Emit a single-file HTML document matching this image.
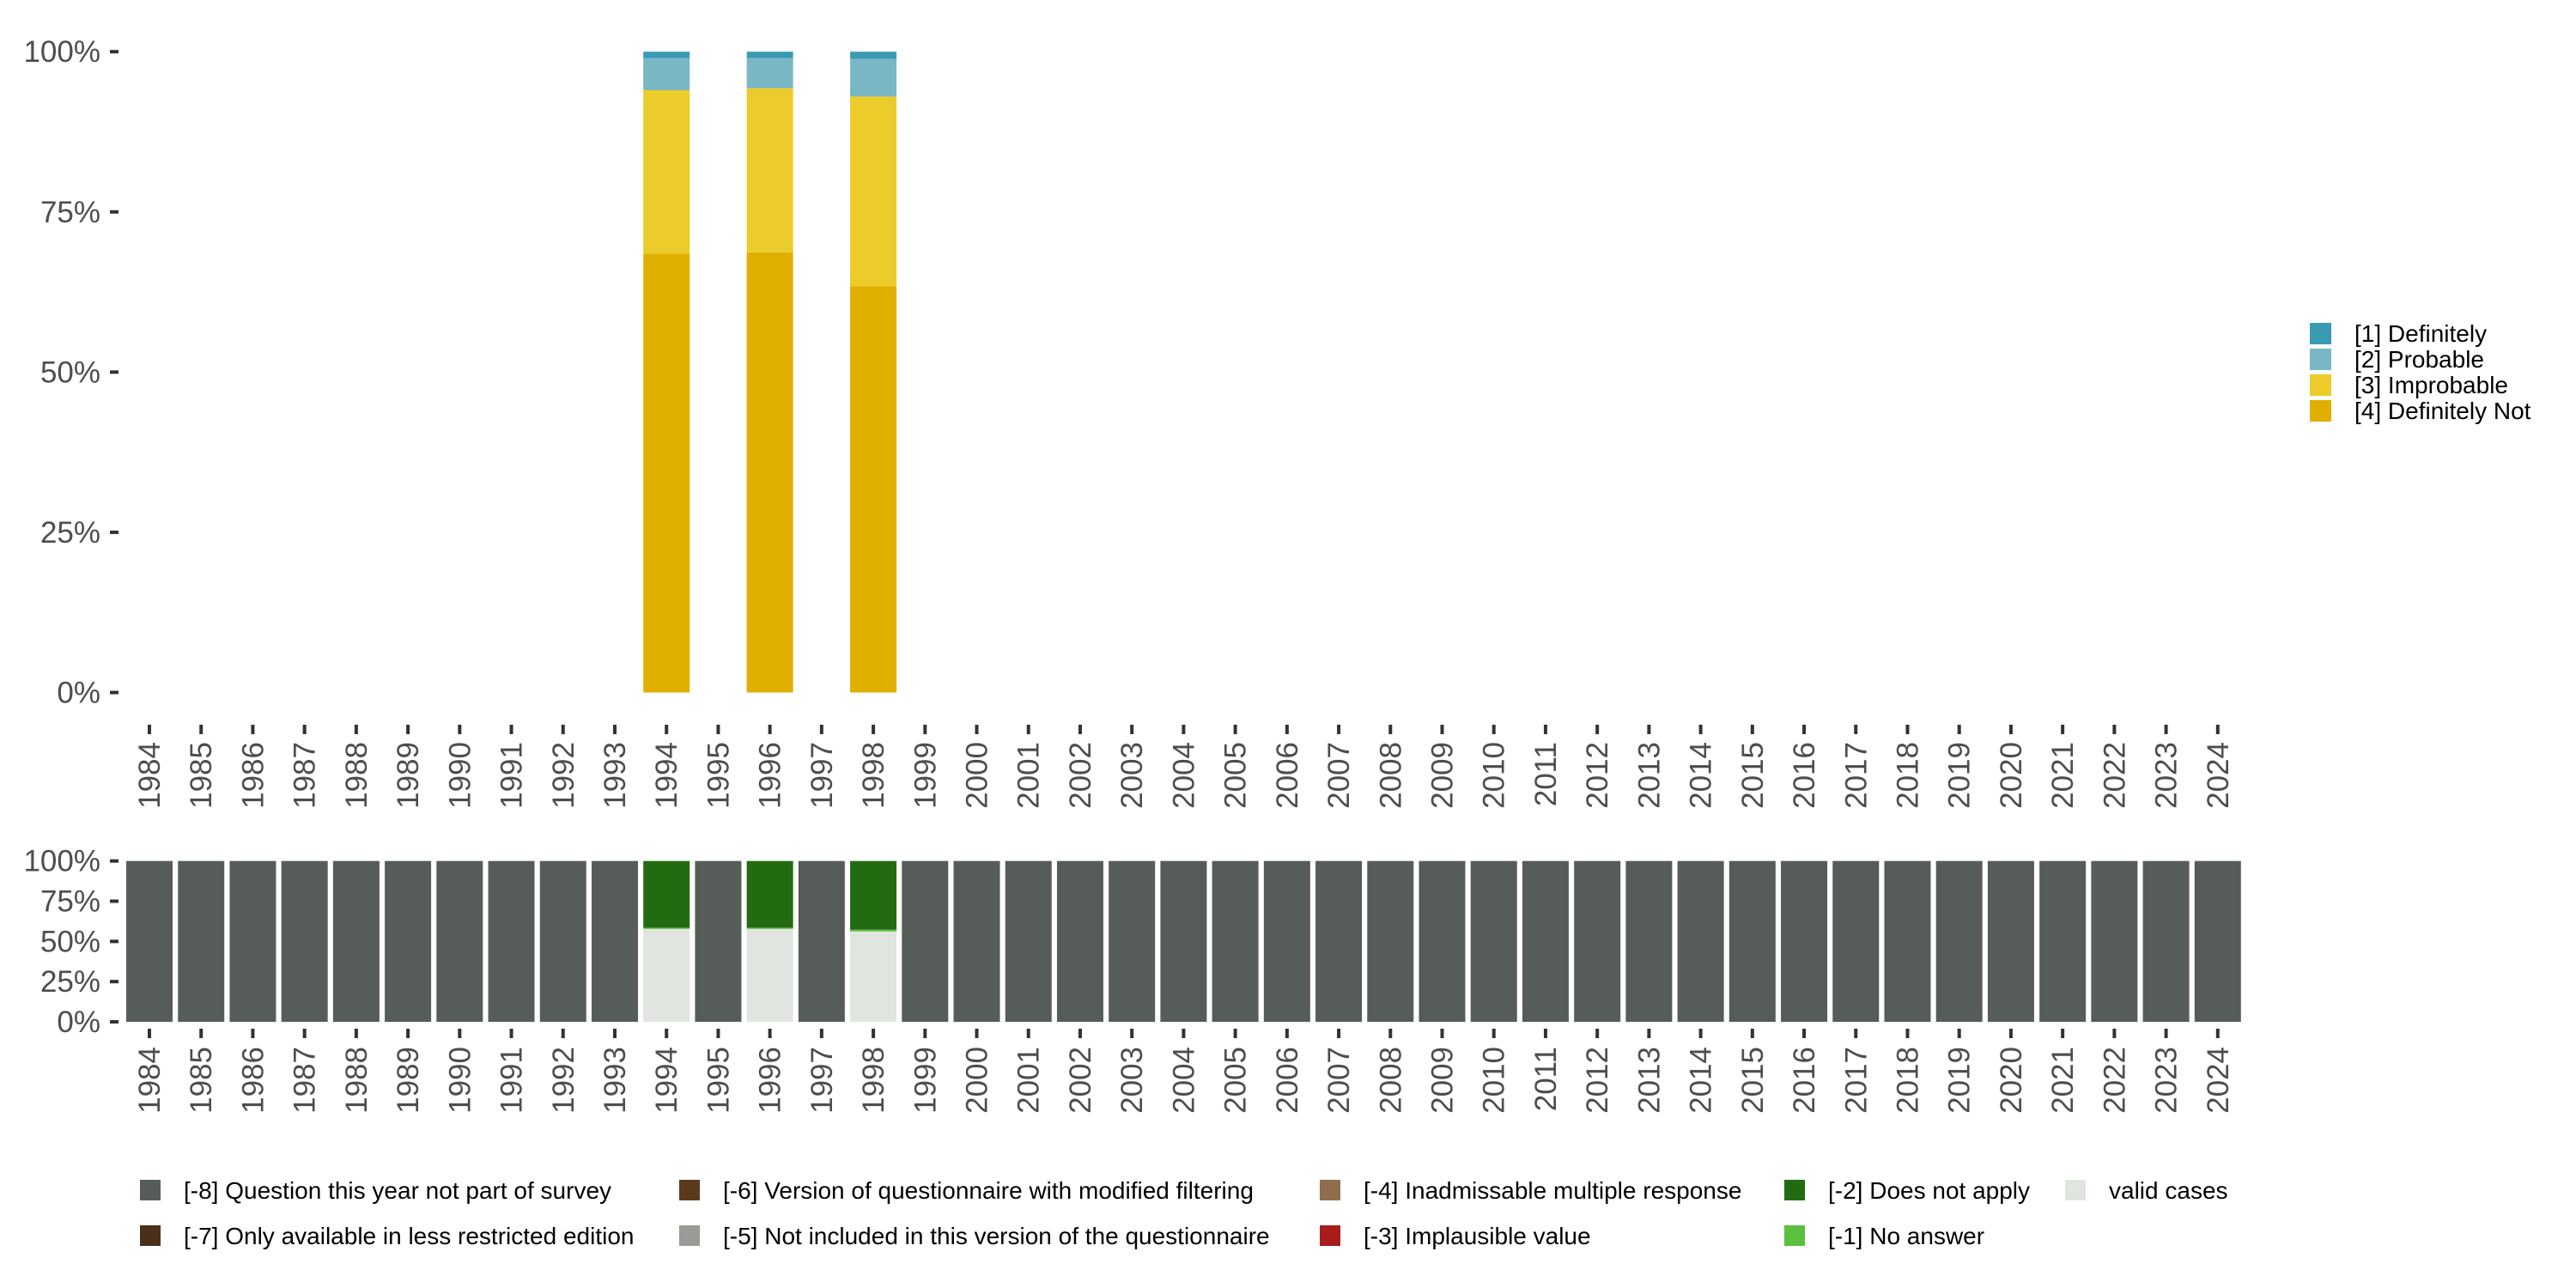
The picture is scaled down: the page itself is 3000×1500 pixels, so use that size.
<!DOCTYPE html>
<html><head><meta charset="utf-8"><style>
html,body{margin:0;padding:0;background:#fff}
svg{display:block}
text{font-family:"Liberation Sans",sans-serif}
</style></head><body>
<svg id="chart" width="3000" height="1500" viewBox="0 0 3000 1500" xmlns="http://www.w3.org/2000/svg">
<g id="topChart"></g>
<g id="bottomChart"></g>
<g id="legR"></g>
<g id="legB"></g>
</svg>
<script>
const years = [];
for (let y = 1984; y <= 2024; y++) years.push(y);
const surveyYears = [1994, 1996, 1998];
const definitely = [1.0, 1.0, 1.1];
const probable = [5.0, 4.7, 5.9];
const improbable = [25.5, 25.6, 29.6];
const definitelyNot = [68.5, 68.7, 63.4];
const validCases = [57.8, 57.8, 56.2];
const noAnswer = [0.7, 0.7, 1.1];
const yTicks = [0, 25, 50, 75, 100];
const yTickLabels = ["0%", "25%", "50%", "75%", "100%"];

const NS = "http://www.w3.org/2000/svg";
function el(tag, attrs, parent) {
  const e = document.createElementNS(NS, tag);
  for (const k in attrs) e.setAttribute(k, attrs[k]);
  parent.appendChild(e);
  return e;
}
const slot = 60.22, x0 = 174, bw = 54;
const xS = y => x0 + (y - 1984) * slot;
const yTop = v => 806.5 - v / 100 * 746.3;
const yBot = v => 1190 - v / 100 * 187.3;

function axes(g, yS, tickY1, labelY, prefix) {
  yTicks.forEach((t, i) => {
    const r = el("rect", {x: 128, y: yS(t) - 2, width: 10, height: 4, fill: "#333"}, g);
    
    
    const tx = el("text", {x: 117, y: yS(t) + 12, "text-anchor": "end", "font-size": 35, fill: "#4d4d4d"}, g);
    
    
    tx.textContent = yTickLabels[i];
  });
  years.forEach(y => {
    const r = el("rect", {x: xS(y) - 2, y: tickY1, width: 4, height: 11, fill: "#333"}, g);
    
    
    const tx = el("text", {x: 0, y: 0, "text-anchor": "end", "font-size": 35, fill: "#4d4d4d",
      transform: `translate(${xS(y) + 12},${labelY}) rotate(-90)`}, g);
    
    
    tx.textContent = y;
  });
}

const topG = document.getElementById("topChart");
axes(topG, yTop, 844, 864, "top");
const topSeries = [[definitelyNot, "#e1af00", "definitely-not"], [improbable, "#ebcc2a", "improbable"], [probable, "#79b7c5", "probable"], [definitely, "#3a9ab2", "definitely"]];
surveyYears.forEach((yr, i) => {
  let cum = 0;
  topSeries.forEach(([arr, col, nm]) => {
    const v = arr[i];
    const r = el("rect", {x: xS(yr) - bw / 2, y: yTop(cum + v), width: bw, height: yTop(cum) - yTop(cum + v), fill: col}, topG);
    
    
    cum += v;
  });
});

const botG = document.getElementById("bottomChart");
axes(botG, yBot, 1198, 1219, "bottom");
years.forEach(yr => {
  const i = surveyYears.indexOf(yr);
  let segs;
  if (i < 0) segs = [[100, "#565c57", "not-in-survey"]];
  else segs = [[validCases[i], "#e1e5e0", "valid"], [noAnswer[i], "#5bbf3f", "no-answer"], [100 - validCases[i] - noAnswer[i], "#226b11", "does-not-apply"]];
  let cum = 0;
  segs.forEach(([v, col, nm]) => {
    const r = el("rect", {x: xS(yr) - bw / 2, y: yBot(cum + v), width: bw, height: yBot(cum) - yBot(cum + v), fill: col}, botG);
    
    
    cum += v;
  });
});

const legR = document.getElementById("legR");
[["[1] Definitely", "#3a9ab2"], ["[2] Probable", "#79b7c5"], ["[3] Improbable", "#ebcc2a"], ["[4] Definitely Not", "#e1af00"]].forEach(([t, c], i) => {
  const y = 376 + i * 30;
  const r = el("rect", {x: 2690, y: y, width: 25, height: 25, fill: c}, legR);
  
  
  const tx = el("text", {x: 2742, y: y + 22, "font-size": 28, fill: "#000"}, legR);
  
  
  tx.textContent = t;
});

const legB = document.getElementById("legB");
const colsX = [163, 791, 1537, 2078, 2405];
const rowsY = [1374, 1427];
[
 [0,0,"[-8] Question this year not part of survey","#565c57"],
 [1,0,"[-6] Version of questionnaire with modified filtering","#5a3a1c"],
 [2,0,"[-4] Inadmissable multiple response","#8f6e4d"],
 [3,0,"[-2] Does not apply","#226b11"],
 [4,0,"valid cases","#e1e5e0"],
 [0,1,"[-7] Only available in less restricted edition","#4a2f1a"],
 [1,1,"[-5] Not included in this version of the questionnaire","#999b96"],
 [2,1,"[-3] Implausible value","#a81c1c"],
 [3,1,"[-1] No answer","#5bbf3f"]
].forEach(([c, r, t, col]) => {
  const sw = el("rect", {x: colsX[c], y: rowsY[r], width: 24, height: 24, fill: col}, legB);
  
  
  const tx = el("text", {x: colsX[c] + 51, y: rowsY[r] + 22, "font-size": 28, fill: "#000"}, legB);
  
  
  tx.textContent = t;
});
</script>
</body></html>
